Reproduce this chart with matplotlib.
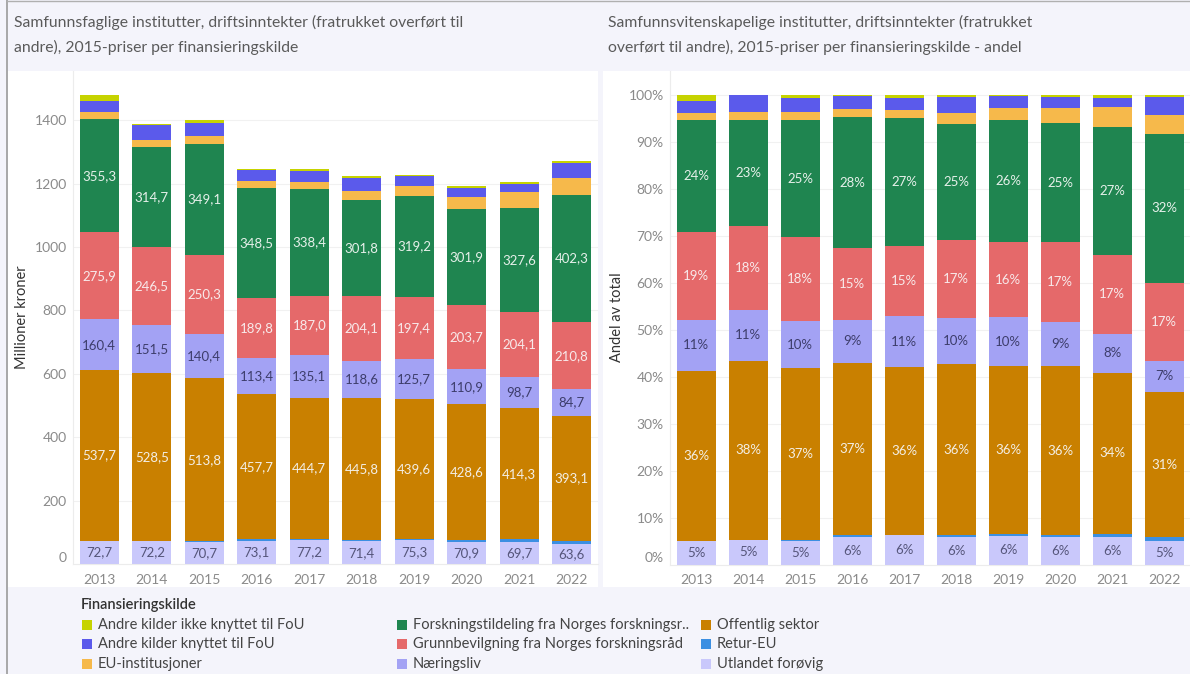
import numpy as np
import matplotlib
matplotlib.use('Agg')
from matplotlib import pyplot as plt
from matplotlib.patches import Rectangle
from matplotlib.lines import Line2D

plt.rcParams['font.family'] = ['Lato', 'DejaVu Sans']

years = ['2013', '2014', '2015', '2016', '2017', '2018', '2019', '2020', '2021', '2022']

# millioner kroner, stacked from bottom to top
utlandet = [72.7, 72.2, 70.7, 73.1, 77.2, 71.4, 75.3, 70.9, 69.7, 63.6]
retur_eu = [0.5, 0.5, 1.0, 5.0, 1.5, 5.0, 5.0, 4.0, 8.0, 10.0]
offentlig = [537.7, 528.5, 513.8, 457.7, 444.7, 445.8, 439.6, 428.6, 414.3, 393.1]
naeringsliv = [160.4, 151.5, 140.4, 113.4, 135.1, 118.6, 125.7, 110.9, 98.7, 84.7]
grunnbevilgning = [275.9, 246.5, 250.3, 189.8, 187.0, 204.1, 197.4, 203.7, 204.1, 210.8]
forskningstildeling = [355.3, 314.7, 349.1, 348.5, 338.4, 301.8, 319.2, 301.9, 327.6, 402.3]
eu_institusjoner = [22, 23, 24, 22, 21, 29, 30, 39, 50, 52]
andre_fou = [37, 49, 43, 33, 34, 42, 33, 28, 25, 49]
andre_ikke_fou = [19, 0.5, 8, 3, 7, 5, 2, 5, 7, 5]

series = [
    ('Utlandet forøvig', utlandet, '#c9c8fb', '#55557a'),
    ('Retur-EU', retur_eu, '#3c8fe2', None),
    ('Offentlig sektor', offentlig, '#c98000', '#f4efe6'),
    ('Næringsliv', naeringsliv, '#a3a2f4', '#3d3d6b'),
    ('Grunnbevilgning fra Norges forskningsråd', grunnbevilgning, '#e5696a', '#f8eaea'),
    ('Forskningstildeling fra Norges forskningsr..', forskningstildeling, '#1f8550', '#e6f0ea'),
    ('EU-institusjoner', eu_institusjoner, '#f6b94b', None),
    ('Andre kilder knyttet til FoU', andre_fou, '#5b5aeb', None),
    ('Andre kilder ikke knyttet til FoU', andre_ikke_fou, '#c6d300', None),
]

legend_order = [
    'Andre kilder ikke knyttet til FoU', 'Andre kilder knyttet til FoU', 'EU-institusjoner',
    'Forskningstildeling fra Norges forskningsr..', 'Grunnbevilgning fra Norges forskningsråd', 'Næringsliv',
    'Offentlig sektor', 'Retur-EU', 'Utlandet forøvig',
]

W, H = 1190, 674
bg = '#f4f4fb'
fig = plt.figure(figsize=(W / 100, H / 100), dpi=100, facecolor=bg)


def fx(px):
    return px / W


def fy(py):
    return 1 - py / H


# white panels
for x0, x1 in [(8, 598), (603, 1190)]:
    fig.patches.append(Rectangle((fx(x0), fy(587)), fx(x1 - x0), (587 - 71) / H,
                                 transform=fig.transFigure, facecolor='white',
                                 edgecolor='none', zorder=-5))
# outer border
fig.lines.append(Line2D([fx(7), fx(7)], [0, 1], transform=fig.transFigure, color='#9a9a9a', lw=1.2))
fig.lines.append(Line2D([fx(7), 1], [fy(1), fy(1)], transform=fig.transFigure, color='#b0b0b0', lw=1.0))

title_col = '#5a5a5a'
tsize = 11.3
fig.text(fx(14), fy(22), 'Samfunnsfaglige institutter, driftsinntekter (fratrukket overført til',
         fontsize=tsize, color=title_col, va='center')
fig.text(fx(14), fy(47), 'andre), 2015-priser per finansieringskilde',
         fontsize=tsize, color=title_col, va='center')
fig.text(fx(608), fy(22), 'Samfunnsvitenskapelige institutter, driftsinntekter (fratrukket',
         fontsize=tsize, color=title_col, va='center')
fig.text(fx(608), fy(47), 'overført til andre), 2015-priser per finansieringskilde - andel',
         fontsize=tsize, color=title_col, va='center')

data = np.array([s[1] for s in series], dtype=float)
totals = data.sum(axis=0)
x = np.arange(len(years))


def style_axes(ax):
    ax.set_facecolor('none')
    ax.set_zorder(2)
    for side in ['top', 'right']:
        ax.spines[side].set_visible(False)
    ax.spines['left'].set_color('#ececec')
    ax.spines['bottom'].set_color('#ececec')
    ax.tick_params(length=0, colors='#8a8a8a', labelsize=10)
    ax.tick_params(axis='y', pad=4.5)
    ax.tick_params(axis='x', pad=7)
    ax.grid(axis='y', color='#f1f1f1', lw=0.8)
    ax.set_axisbelow(True)
    ax.set_xticks(x)
    ax.set_xticklabels(years)
    ax.set_xlim(-0.5, len(years) - 0.5)


def draw(ax, values, fmt):
    bottom = np.zeros(len(years))
    for (name, _, color, lab_col), vals in zip(series, values):
        ax.bar(x, vals, 0.75, bottom=bottom, color=color, linewidth=0, zorder=2)
        if lab_col is not None:
            for xi, v, b in zip(x, vals, bottom):
                ax.text(xi, b + v / 2, fmt(v), ha='center', va='center',
                        fontsize=9.5, color=lab_col, zorder=3)
        bottom = bottom + vals


# left chart: absolute values
ax1 = fig.add_axes([fx(73), fy(564), fx(598 - 73), (564 - 71) / H])
style_axes(ax1)
draw(ax1, data, lambda v: f'{v:.1f}'.replace('.', ','))
ax1.set_ylim(0, 1555)
ax1.set_yticks(np.arange(0, 1401, 200))
ax1.set_yticklabels([str(v) for v in range(0, 1401, 200)])
ax1.get_yticklabels()[0].set_va('bottom')
fig.text(fx(22), fy(317), 'Millioner kroner', rotation=90, ha='center', va='center',
         fontsize=10.5, color='#333333')

# right chart: share of total
shares = data / totals * 100
ax2 = fig.add_axes([fx(670), fy(564.5), fx(1190 - 670), (564.5 - 71) / H])
style_axes(ax2)
draw(ax2, shares, lambda v: f'{v:.0f}%')
ax2.set_ylim(0, 105.1)
ax2.set_yticks(np.arange(0, 101, 10))
ax2.set_yticklabels([f'{v}%' for v in range(0, 101, 10)])
ax2.get_yticklabels()[0].set_va('bottom')
fig.text(fx(617), fy(317), 'Andel av total', rotation=90, ha='center', va='center',
         fontsize=10.5, color='#333333')

# legend
fig.text(fx(81), fy(605), 'Finansieringskilde', fontsize=10.5, color='#333333',
         fontweight='semibold', va='center')
colors = {s[0]: s[2] for s in series}
col_x = [82, 397, 701]
row_y = [625, 644, 664]
for i, name in enumerate(legend_order):
    cx, cy = col_x[i // 3], row_y[i % 3]
    fig.patches.append(Rectangle((fx(cx), fy(cy + 5)), fx(10), 10 / H,
                                 transform=fig.transFigure, facecolor=colors[name],
                                 edgecolor='none'))
    fig.text(fx(cx + 16), fy(cy), name, fontsize=10.5, color='#444444', va='center')

fig.savefig('out.png', dpi=100, facecolor=bg)
